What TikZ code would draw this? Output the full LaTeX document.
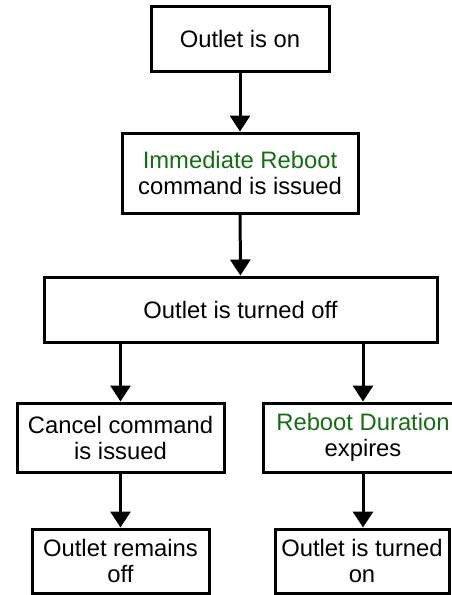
\documentclass[tikz,border=0pt]{standalone}
\usepackage{fontspec}
\setmainfont{Liberation Sans}
\usetikzlibrary{arrows.meta}

\definecolor{cmdgreen}{RGB}{20,110,20}

\tikzset{
	stepbox/.style={rectangle,draw,line width=1.5pt,align=center,inner sep=0pt,
		font=\fontsize{11.9}{13}\selectfont},
	flow/.style={line width=1.5pt,-{Triangle[length=8pt,width=10pt]}}
}

\begin{document}
\begin{tikzpicture}[x=0.5pt,y=-0.5pt]
		\useasboundingbox (0,0) rectangle (451,595);
		
		\node[stepbox,minimum width=89pt,minimum height=32.5pt] (on) at (240,38.5) {Outlet is on};
		\node[stepbox,minimum width=118pt,minimum height=40pt] (reboot) at (240,173) {\textcolor{cmdgreen}{Immediate Reboot}\\command is issued};
		\node[stepbox,minimum width=196.5pt,minimum height=32.5pt] (off) at (240.5,309.5) {Outlet is turned off};
		
		\node[stepbox,minimum width=103.5pt,minimum height=34.5pt] (cancel) at (120.5,437.5) {Cancel command\\is issued};
		\node[stepbox,minimum width=100pt,minimum height=34.5pt] (expires) at (363,437.5) {\textcolor{cmdgreen}{Reboot Duration}\\expires};
		
		\node[stepbox,minimum width=88.5pt,minimum height=32pt] (remains) at (120.5,561) {Outlet remains\\off};
		\node[stepbox,minimum width=87pt,minimum height=32pt] (turnedon) at (362,561) {Outlet is turned\\on};
		
		% Arrows
		\draw[flow] (on) -- (reboot);
		\draw[flow] (reboot) -- (off);
		\draw[flow] (cancel.north |- off.south) -- (cancel.north);
		\draw[flow] (expires.north |- off.south) -- (expires.north);
		\draw[flow] (cancel.south) -- (cancel.south |- remains.north);
		\draw[flow] (expires.south) -- (expires.south |- turnedon.north);
		
	\end{tikzpicture}
\end{document}
